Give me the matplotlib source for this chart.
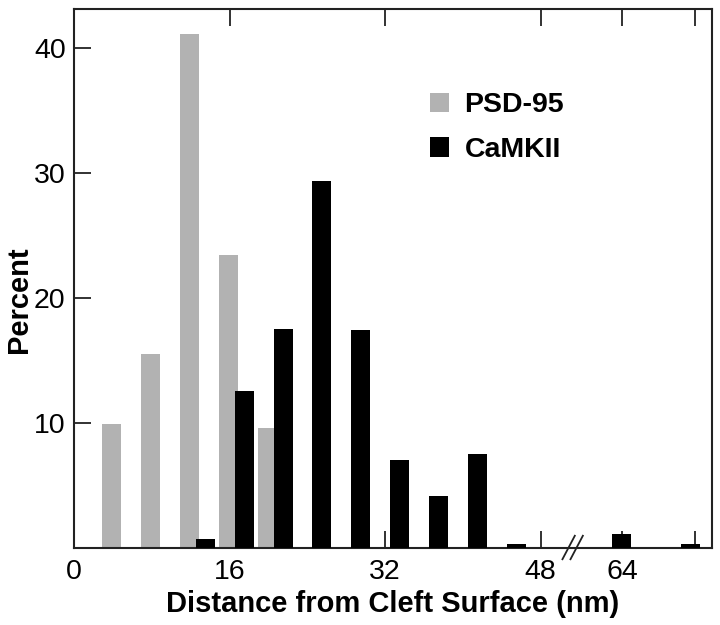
import numpy as np
import matplotlib
matplotlib.use("Agg")
import matplotlib.pyplot as plt
from matplotlib.patches import Patch
from matplotlib.lines import Line2D

# ---- data ----
psd_x = [4, 8, 12, 16, 20]                      # bin positions, nm
psd_pct = [9.9, 15.5, 41.1, 23.4, 9.6]          # PSD-95 percent
camk_x = [13.5, 17.5, 21.5, 25.5, 29.5, 33.5, 37.5, 41.5, 45.5, 64, 79]
camk_pct = [0.7, 12.5, 17.5, 29.3, 17.4, 7.0, 4.1, 7.5, 0.3, 1.1, 0.3]
xticks = [0, 16, 32, 48, 64, 80]
xticklabels = ["0", "16", "32", "48", "64", ""]
yticks = [10, 20, 30, 40]
yticklabels = ["10", "20", "30", "40"]
series_names = ["PSD-95", "CaMKII"]

# ---- broken (compressed) x scale ----
BRK = 49.6      # start of compression, nm
R = 0.469       # compression ratio after break

def fwd(x):
    x = np.asarray(x, dtype=float)
    return np.where(x <= BRK, x, BRK + (x - BRK) * R)

def inv(u):
    u = np.asarray(u, dtype=float)
    return np.where(u <= BRK, u, BRK + (u - BRK) / R)

plt.rcParams['font.family'] = ['Liberation Sans', 'DejaVu Sans']

fig = plt.figure(figsize=(7.2, 6.25), dpi=100)
ax = fig.add_axes([0.1028, 0.124, 0.8857, 0.8616])
ax.set_xscale('function', functions=(fwd, inv))

GRAY = '#b2b2b2'
BW = 1.95

def widths(xs):
    return [BW if x <= BRK else BW / R for x in xs]

ax.bar(np.array(psd_x) - 0.15, psd_pct, width=widths(psd_x), color=GRAY,
       linewidth=0, zorder=2)
ax.bar(camk_x, camk_pct, width=widths(camk_x), color='black',
       linewidth=0, zorder=3)

XMAX = 83.7
ax.set_xlim(0, XMAX)
ax.set_ylim(0, 43.1)

ax.set_xticks(xticks)
ax.set_xticklabels(xticklabels)
ax.set_yticks(yticks)
ax.set_yticklabels(yticklabels)
ax.xaxis.set_minor_locator(matplotlib.ticker.NullLocator())
ax.tick_params(axis='both', direction='in', length=12, width=1.3,
               labelsize=20.5, color='#222222')
ax.tick_params(axis='x', top=True, pad=8)
ax.tick_params(axis='y', pad=6)
for s in ax.spines.values():
    s.set_linewidth(1.5)
    s.set_color('#222222')

ax.set_xlabel('Distance from Cleft Surface (nm)', fontsize=21,
              fontweight='bold', labelpad=4)
ax.set_ylabel('Percent', fontsize=21, fontweight='bold')
ax.yaxis.set_label_coords(-0.064, 0.46)

# legend
handles = [Patch(facecolor=GRAY, edgecolor='none'),
           Patch(facecolor='black', edgecolor='none')]
ax.legend(handles, series_names, loc='upper left',
          bbox_to_anchor=(0.558, 0.8455), frameon=False, borderpad=0,
          borderaxespad=0, handlelength=0.67, handleheight=0.67,
          handletextpad=0.55, labelspacing=0.66,
          prop={'weight': 'bold', 'size': 20.5})

# axis-break marks
BREAK_AT = 53.2
u0, u1 = fwd(0), fwd(XMAX)
xb = float((fwd(BREAK_AT) - u0) / (u1 - u0))
dx, dy = 0.0097, 0.0218
for off in (-0.0063, 0.0063):
    ax.add_line(Line2D([xb + off - dx, xb + off + dx], [-dy, dy],
                       transform=ax.transAxes, color='#222222',
                       linewidth=1.3, clip_on=False, zorder=5))

fig.savefig('out.png', dpi=100)
